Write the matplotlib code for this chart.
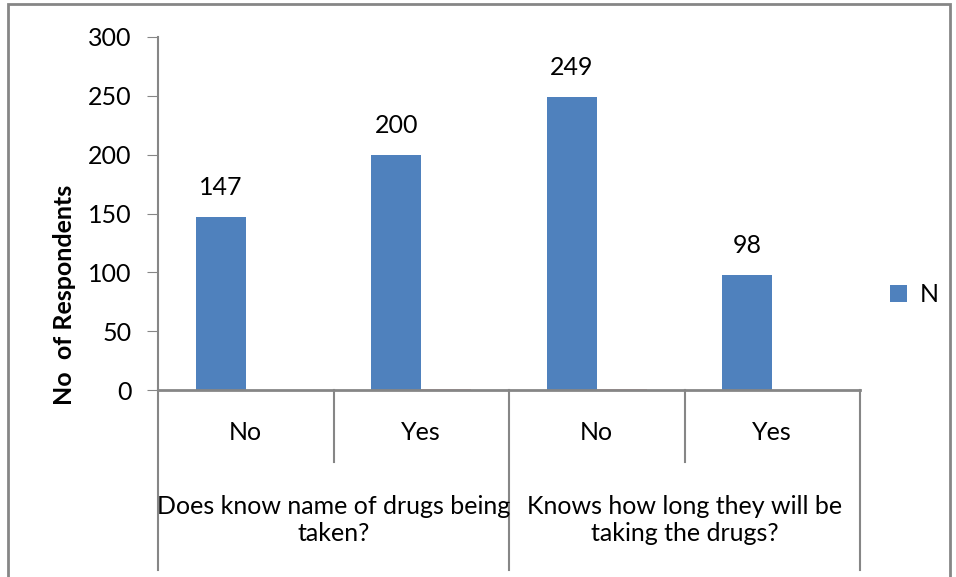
import matplotlib.pyplot as plt
from matplotlib.patches import Rectangle
from matplotlib.lines import Line2D

# chart data
answers = ["No", "Yes", "No", "Yes"]
questions = ["Does know name of drugs being\ntaken?",
             "Knows how long they will be\ntaking the drugs?"]
n_values = [147, 200, 249, 98]
other_values = [0, 1, 1, 0]
y_ticks = [0, 50, 100, 150, 200, 250, 300]

plt.rcParams['font.family'] = ['Lato', 'DejaVu Sans']
fs = 18

fig = plt.figure(figsize=(9.56, 5.77), dpi=100)
ax = fig.add_axes([158 / 956, 1 - 390 / 577, 702 / 956, 353 / 577])

axis_gray = '#868686'
blue = '#4F81BD'
width = 0.285
xs = [i + 0.5 for i in range(len(answers))]

ax.bar([x - width / 2 for x in xs], n_values, width=width, color=blue, label='N')
ax.bar([x + width / 2 for x in xs], other_values, width=width, color='#E3A8A6')

for x, v in zip(xs, n_values):
    ax.text(x - width / 2, v + 25, str(v), ha='center', va='center', fontsize=fs)

ax.set_xlim(0, len(answers))
ax.set_ylim(0, 300)
ax.set_yticks(y_ticks)
ax.set_yticklabels([str(t) for t in y_ticks], fontsize=fs)
ax.tick_params(axis='y', direction='out', length=8, color=axis_gray, pad=11)
ax.set_xticks([])
for side in ['top', 'right']:
    ax.spines[side].set_visible(False)
ax.spines['left'].set_color(axis_gray)
ax.spines['bottom'].set_color(axis_gray)
ax.spines['left'].set_linewidth(1.5)
ax.spines['bottom'].set_linewidth(2)

ax.set_ylabel('No  of Respondents', fontsize=fs, fontweight='bold')
ax.yaxis.set_label_coords(-82 / 702, 0.27)

# two-level category axis
trans = ax.get_xaxis_transform()
lower = -(570 - 390) / 353
middle = -(462 - 390) / 353
for x in [0, 2, 4]:
    ax.add_line(Line2D([x, x], [0, lower], transform=trans, color=axis_gray,
                       lw=1.5, clip_on=False))
for x in [1, 3]:
    ax.add_line(Line2D([x, x], [0, middle], transform=trans, color=axis_gray,
                       lw=1.5, clip_on=False))
for x, a in zip(xs, answers):
    ax.text(x, -(432 - 390) / 353, a, transform=trans, ha='center', va='center',
            fontsize=fs)
for k, q in enumerate(questions):
    ax.text(2 * k + 1, -(520 - 390) / 353, q, transform=trans, ha='center',
            va='center', fontsize=fs, linespacing=1.25)

ax.legend(loc='center left', bbox_to_anchor=(1.01, 0.27), frameon=False,
          fontsize=fs, handlelength=0.7, handleheight=0.7, handletextpad=0.5)

# outer chart border
fig.patches.append(Rectangle((8 / 956, -0.05), 942 / 956, 1.05 - 4 / 577,
                             transform=fig.transFigure, fill=False,
                             edgecolor=axis_gray, lw=2))

fig.savefig('out.png', dpi=100)
